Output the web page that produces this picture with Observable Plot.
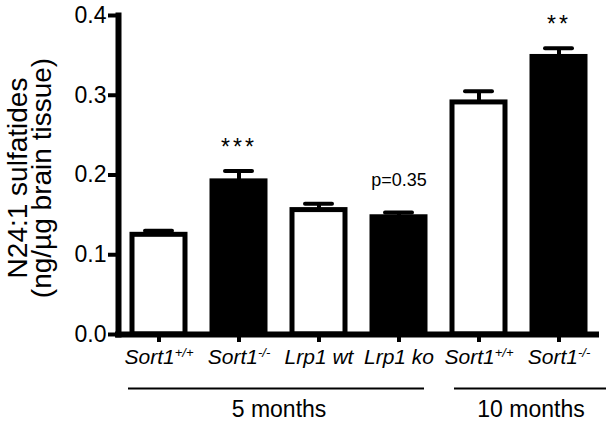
<!DOCTYPE html>
<html><head><meta charset="utf-8">
<script src="https://cdn.jsdelivr.net/npm/d3@7"></script>
<script src="https://cdn.jsdelivr.net/npm/@observablehq/plot@0.6"></script>
<style>body{margin:0;background:#fff;color:#000;} svg{display:block;}</style>
</head><body><div id="chart"></div>
<script>
const categories = ["Sort1+/+ (5 mo)", "Sort1-/- (5 mo)", "Lrp1 wt", "Lrp1 ko", "Sort1+/+ (10 mo)", "Sort1-/- (10 mo)"];
const tickBase = ["Sort1", "Sort1", "Lrp1 wt", "Lrp1 ko", "Sort1", "Sort1"];
const tickSup = ["+/+", "-/-", "", "", "+/+", "-/-"];
const genotype = ["wt", "ko", "wt", "ko", "wt", "ko"];
const values = [0.125, 0.192, 0.156, 0.147, 0.291, 0.348];
const errors = [0.005, 0.013, 0.008, 0.006, 0.014, 0.011];
const annotations = ["", "***", "", "p=0.35", "", "**"];
const groupLabels = ["5 months", "10 months"];
const yTicks = [0, 0.1, 0.2, 0.3, 0.4];
const yLabelLines = ["N24:1 sulfatides", "(ng/µg brain tissue)"];

const data = categories.map((c, i) => ({cat: c, value: values[i], err: errors[i], geno: genotype[i], note: annotations[i]}));
const FONT = "'Liberation Sans', Arial, Helvetica, sans-serif";

const svg = Plot.plot({
  width: 614, height: 424,
  marginLeft: 118, marginRight: 16, marginTop: 15, marginBottom: 90,
  style: {fontFamily: FONT, background: "white", color: "black", overflow: "visible"},
  x: {domain: categories, paddingInner: 0.34, paddingOuter: 0.17, axis: null},
  y: {domain: [0, 0.4], axis: null},
  color: {domain: ["wt", "ko"], range: ["white", "black"]},
  marks: [
    Plot.barY(data, {x: "cat", y: "value", fill: "geno", stroke: "black", strokeWidth: 5}),
    Plot.ruleX(data, {x: "cat", y1: "value", y2: d => d.value + d.err, stroke: "black", strokeWidth: 4}),
    Plot.tickY(data, {x: "cat", y: d => d.value + d.err, stroke: "black", strokeWidth: 4, strokeLinecap: "round", inset: 13}),
    Plot.text(data.filter(d => d.note.startsWith("*")), {x: "cat", y: d => d.value + d.err, text: "note", lineAnchor: "bottom", dy: -16, fontSize: 23}),
    Plot.text(data.filter(d => d.note.startsWith("p")), {x: "cat", y: d => d.value + d.err, text: "note", lineAnchor: "bottom", dy: -26, fontSize: 18}),
    Plot.axisY({ticks: yTicks, tickFormat: d3.format(".1f"), tickSize: 10, tickPadding: 2, fontSize: 23, strokeWidth: 4, label: null}),
    Plot.axisX({tickSize: 8, tickPadding: 7, fontSize: 21, fontStyle: "italic", strokeWidth: 4, label: null}),
    Plot.ruleY([0], {stroke: "black", strokeWidth: 6, insetLeft: -3, insetRight: -1}),
    Plot.frame({anchor: "left", stroke: "black", strokeWidth: 6}),
    Plot.ruleY([0], {x1: () => categories[0], x2: () => categories[3], dy: 54, strokeWidth: 2, insetLeft: -4, insetRight: 1}),
    Plot.ruleY([0], {x1: () => categories[4], x2: () => categories[5], dy: 54, strokeWidth: 2, insetLeft: 2, insetRight: -21}),
    Plot.text([groupLabels[0]], {x: () => categories[1], y: () => 0, text: d => d, dx: 40, dy: 82, lineAnchor: "bottom", fontSize: 23}),
    Plot.text([groupLabels[1]], {x: () => categories[4], y: () => 0, text: d => d, dx: 52, dy: 82, lineAnchor: "bottom", fontSize: 23}),
    Plot.text([yLabelLines[0]], {frameAnchor: "left", textAnchor: "middle", text: d => d, rotate: -90, dx: -92, dy: 3, lineAnchor: "bottom", fontSize: 28}),
    Plot.text([yLabelLines[1]], {frameAnchor: "left", textAnchor: "middle", text: d => d, rotate: -90, dx: -68, dy: 3, lineAnchor: "bottom", fontSize: 28})
  ]
});

d3.select(svg).selectAll('g[aria-label="x-axis tick label"] text').each(function() {
  const t = d3.select(this);
  const i = categories.indexOf(t.text());
  if (i < 0) return;
  t.text(null);
  t.append("tspan").text(tickBase[i]);
  if (tickSup[i]) t.append("tspan").attr("dy", "-0.6em").attr("font-size", "0.62em").text(tickSup[i]);
});
d3.select(svg).selectAll("text").filter(function() { return /^\*+$/.test(this.textContent); }).attr("letter-spacing", "3px");

document.getElementById("chart").appendChild(svg);
</script>
</body></html>
